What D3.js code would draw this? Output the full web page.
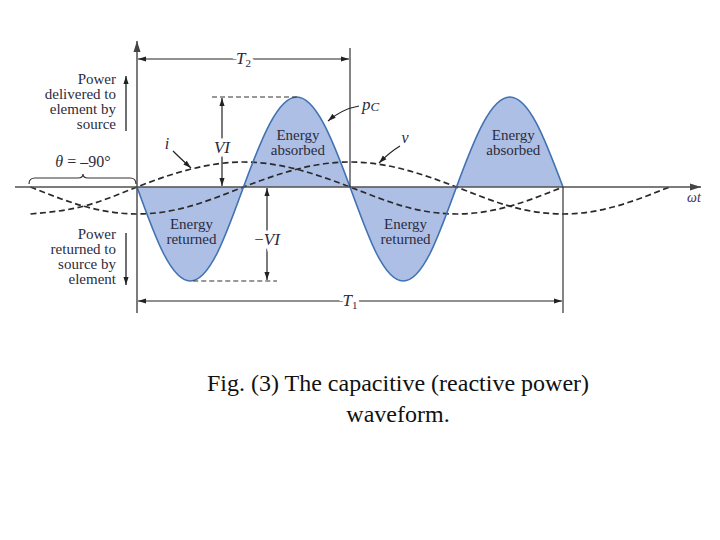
<!DOCTYPE html>
<html>
<head>
<meta charset="utf-8">
<script src="https://cdn.jsdelivr.net/npm/d3@7"></script>
<style>
  html, body { margin:0; padding:0; background:#fff; }
  svg text { font-family:"Liberation Serif","Times New Roman",serif; fill:#2c2b3e; }
</style>
</head>
<body>
<div id="chart"></div>
<script>
////////////////////////////////////////////////////
// values (phase of current i, degrees)
////////////////////////////////////////////////////
var pAngles  = [0,22.5,45,67.5,90,112.5,135,157.5,180,202.5,225,247.5,270,292.5,315,337.5,360];
var pcValues = [0,-0.71,-1,-0.71,0,0.71,1,0.71,0,-0.71,-1,-0.71,0,0.71,1,0.71,0];

var wAngles = [-90,-45,0,45,90,135,180,225,270,315,360,405,450];
var vValues = [0,-0.71,-1,-0.71,0,0.71,1,0.71,0,-0.71,-1,-0.71,0];
var iValues = [-1,-0.71,0,0.71,1,0.71,0,-0.71,-1,-0.71,0];

var energyLabels = [
	{a:46,  txt:["Energy","returned"], dy:229},
	{a:136, txt:["Energy","absorbed"], dy:140},
	{a:227, txt:["Energy","returned"], dy:229},
	{a:318, txt:["Energy","absorbed"], dy:140}
];
var deliveredLines = ["Power","delivered to","element by","source"];
var returnedLines  = ["Power","returned to","source by","element"];
var captionLines   = ["Fig. (3) The capacitive (reactive power)","waveform."];
////////////////////////////////////////////////////

var W=720, H=540;
var svg = d3.select("#chart").append("svg:svg")
	.attr("width", W)
	.attr("height", H);

var x  = d3.scaleLinear().domain([0,360]).range([137,563]);
var yP = d3.scaleLinear().domain([-1,0,1]).range([281,187,97]);
var yW = d3.scaleLinear().domain([-1,0,1]).range([214,187,162]);

var ink = "#333";

var defs = svg.append("defs");
defs.append("marker")
	.attr("id","arr")
	.attr("viewBox","0 0 10 10")
	.attr("refX",10).attr("refY",5)
	.attr("markerWidth",8).attr("markerHeight",8)
	.attr("markerUnits","userSpaceOnUse")
	.attr("orient","auto-start-reverse")
	.append("path").attr("d","M0,1.8 L10,5 L0,8.2 z").attr("fill","#222");
defs.append("marker")
	.attr("id","arrBig")
	.attr("viewBox","0 0 10 10")
	.attr("refX",10).attr("refY",5)
	.attr("markerWidth",11).attr("markerHeight",11)
	.attr("markerUnits","userSpaceOnUse")
	.attr("orient","auto-start-reverse")
	.append("path").attr("d","M0,1.8 L10,5 L0,8.2 z").attr("fill","#444");

// power curve p_C
var pData = pAngles.map(function(a,i){ return {a:a, v:pcValues[i]}; });
var area = d3.area()
	.x(function(d){ return x(d.a); })
	.y0(yP(0))
	.y1(function(d){ return yP(d.v); })
	.curve(d3.curveNatural);
var line = d3.line()
	.x(function(d){ return x(d.a); })
	.y(function(d){ return yP(d.v); })
	.curve(d3.curveNatural);

svg.append("path").datum(pData)
	.attr("d", area)
	.attr("fill","#adbfe4");

// v and i (dashed)
var wLine = d3.line()
	.x(function(d){ return x(d.a); })
	.y(function(d){ return yW(d.v); })
	.curve(d3.curveNatural);
var vData = wAngles.map(function(a,i){ return {a:a, v:vValues[i]}; });
var iData = iValues.map(function(v,i){ return {a:wAngles[i], v:v}; });
[vData,iData].forEach(function(dd){
	svg.append("path").datum(dd)
		.attr("d", wLine)
		.attr("fill","none")
		.attr("stroke","#2a2a2a")
		.attr("stroke-width",1.7)
		.attr("stroke-dasharray","6,3.5");
});

svg.append("path").datum(pData)
	.attr("d", line)
	.attr("fill","none")
	.attr("stroke","#4172b2")
	.attr("stroke-width",1.6);

// axes
svg.append("line")
	.attr("x1",15).attr("y1",yP(0)).attr("x2",701).attr("y2",yP(0))
	.attr("stroke","#505050").attr("stroke-width",1.7)
	.attr("marker-end","url(#arrBig)");
svg.append("line")
	.attr("x1",x(0)).attr("y1",313).attr("x2",x(0)).attr("y2",41)
	.attr("stroke","#505050").attr("stroke-width",1.5)
	.attr("marker-end","url(#arrBig)");

// period marks
svg.append("line").attr("x1",x(180)).attr("x2",x(180)).attr("y1",48).attr("y2",yP(0))
	.attr("stroke",ink).attr("stroke-width",1.2);
svg.append("line").attr("x1",x(360)).attr("x2",x(360)).attr("y1",yP(0)).attr("y2",313)
	.attr("stroke",ink).attr("stroke-width",1.2);

function dimLine(x1,y1,x2,y2){
	svg.append("line")
		.attr("x1",x1).attr("y1",y1).attr("x2",x2).attr("y2",y2)
		.attr("stroke","#222").attr("stroke-width",1.2)
		.attr("marker-start","url(#arr)")
		.attr("marker-end","url(#arr)");
}
function haloText(tx,ty,size){
	return svg.append("text")
		.attr("x",tx).attr("y",ty)
		.attr("text-anchor","middle")
		.attr("font-size",size)
		.attr("stroke","#fff").attr("stroke-width",7)
		.attr("paint-order","stroke");
}

// T2 and T1
dimLine(x(0)+1,59,x(180)-1,59);
var t2 = haloText((x(0)+x(180))/2,64,17);
t2.append("tspan").attr("font-style","italic").text("T");
t2.append("tspan").attr("font-size",11).attr("dy",3).text("2");
dimLine(x(0)+1,301,x(360)-1,301);
var t1 = haloText((x(0)+x(360))/2,306,17);
t1.append("tspan").attr("font-style","italic").text("T");
t1.append("tspan").attr("font-size",11).attr("dy",3).text("1");

// VT and -VT
svg.append("line").attr("x1",212).attr("x2",x(135)).attr("y1",yP(1)).attr("y2",yP(1))
	.attr("stroke","#333").attr("stroke-width",1.1).attr("stroke-dasharray","5,3");
dimLine(222,yP(1)+1,222,yP(0)-1);
haloText(222,153,17).attr("font-style","italic").text("VI");

svg.append("line").attr("x1",x(45)+3).attr("x2",277).attr("y1",yP(-1)).attr("y2",yP(-1))
	.attr("stroke","#333").attr("stroke-width",1.1).attr("stroke-dasharray","5,3");
dimLine(267,yP(0)+1,267,yP(-1)-1);
var nvt = haloText(267,245,17);
nvt.append("tspan").text("\u2212");
nvt.append("tspan").attr("font-style","italic").text("VI");

// energy labels
energyLabels.forEach(function(d){
	var t = svg.append("text")
		.attr("text-anchor","middle")
		.attr("font-size",15);
	d.txt.forEach(function(s,k){
		t.append("tspan").attr("x",x(d.a)).attr("y",d.dy+k*14.5).text(s);
	});
});

// left captions with arrows
function stack(lines,y0){
	var t = svg.append("text").attr("text-anchor","end").attr("font-size",15);
	lines.forEach(function(s,k){
		t.append("tspan").attr("x",116).attr("y",y0+k*15).text(s);
	});
}
stack(deliveredLines,84);
stack(returnedLines,239);
svg.append("line").attr("x1",126).attr("x2",126).attr("y1",131).attr("y2",76)
	.attr("stroke","#222").attr("stroke-width",1.3).attr("marker-end","url(#arr)");
svg.append("line").attr("x1",126).attr("x2",126).attr("y1",233).attr("y2",285)
	.attr("stroke","#222").attr("stroke-width",1.3).attr("marker-end","url(#arr)");

// theta brace
svg.append("path")
	.attr("d","M29,184 Q29,178 35,178 L78,178 Q83,178 83,174 Q83,178 88,178 L130,178 Q136,178 136,184")
	.attr("fill","none").attr("stroke","#333").attr("stroke-width",1.2);
var th = svg.append("text").attr("x",83).attr("y",167).attr("text-anchor","middle").attr("font-size",16);
th.append("tspan").attr("font-style","italic").text("\u03b8");
th.append("tspan").text(" = \u201390\u00b0");

// curve labels with leaders
function leader(d){
	svg.append("path").attr("d",d)
		.attr("fill","none").attr("stroke","#222").attr("stroke-width",1.2)
		.attr("marker-end","url(#arr)");
}
leader("M173,151 Q180,158 191,168");
svg.append("text").attr("x",167).attr("y",149).attr("font-size",16).attr("font-style","italic").attr("text-anchor","middle").text("i");
leader("M400,146 Q390,152 379,163");
svg.append("text").attr("x",405).attr("y",143).attr("font-size",16).attr("font-style","italic").attr("text-anchor","middle").text("v");
leader("M359,106 Q342,109 328,121");
var pc = svg.append("text").attr("x",362).attr("y",110).attr("font-size",17).attr("font-style","italic");
pc.append("tspan").text("p");
pc.append("tspan").attr("font-size",13).attr("dy",1).text("C");

svg.append("text").attr("x",694).attr("y",202).attr("font-size",14).attr("font-style","italic")
	.attr("text-anchor","middle").style("fill","#3d2f5c").text("\u03c9t");

// caption
captionLines.forEach(function(s,k){
	svg.append("text")
		.attr("x",398).attr("y",391+k*31)
		.attr("text-anchor","middle")
		.attr("font-size",24)
		.style("fill","#111")
		.text(s);
});
</script>
</body>
</html>
